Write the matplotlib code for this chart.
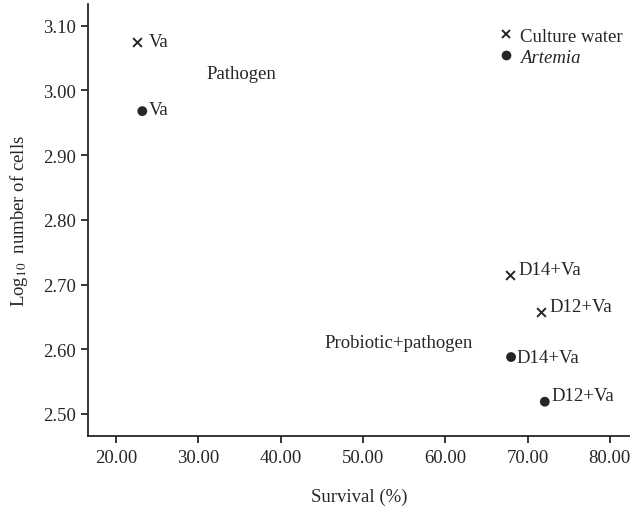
import matplotlib
matplotlib.use("Agg")
import matplotlib.pyplot as plt
from matplotlib.lines import Line2D

plt.rcParams['font.family'] = ['Liberation Serif', 'DejaVu Serif']
plt.rcParams['mathtext.fontset'] = 'stix'

# Data
water_labels = ["Va", "D14+Va", "D12+Va"]
water_survival = [22.5, 67.9, 71.6]
water_log = [3.075, 2.715, 2.658]

artemia_labels = ["Va", "D14+Va", "D12+Va"]
artemia_survival = [23.2, 68.0, 72.1]
artemia_log = [2.968, 2.588, 2.519]

x_ticks = [20, 30, 40, 50, 60, 70, 80]
y_ticks = [2.5, 2.6, 2.7, 2.8, 2.9, 3.0, 3.1]

ink = "#262626"
FS = 13.5

fig = plt.figure(figsize=(6.3, 5.1), dpi=100)
ax = fig.add_axes([0.140, 0.1425, 0.86, 0.8477])

ax.scatter(water_survival, water_log, marker='x', s=40, color=ink, linewidths=1.4, zorder=3)
ax.scatter(artemia_survival, artemia_log, marker='o', s=50, color=ink, edgecolors='none', zorder=3)

water_offsets = [(9, 0), (6, 3.5), (6.5, 3.5)]
for lab, x, y, off in zip(water_labels, water_survival, water_log, water_offsets):
    ax.annotate(lab, (x, y), xytext=off, textcoords='offset points',
                ha='left', va='center', fontsize=FS, color=ink)
art_offsets = [(5, 1), (4, 0), (4.5, 4.5)]
for lab, x, y, off in zip(artemia_labels, artemia_survival, artemia_log, art_offsets):
    ax.annotate(lab, (x, y), xytext=off, textcoords='offset points',
                ha='left', va='center', fontsize=FS, color=ink)

ax.text(35.3, 3.026, "Pathogen", ha='center', va='center', fontsize=FS, color=ink)
ax.text(54.3, 2.611, "Probiotic+pathogen", ha='center', va='center', fontsize=FS, color=ink)

handles = [Line2D([], [], marker='x', linestyle='none', color=ink, markersize=6.3, markeredgewidth=1.4),
           Line2D([], [], marker='o', linestyle='none', color=ink, markersize=7, markeredgewidth=0)]
leg = ax.legend(handles, ["Culture water", "Artemia"], loc='upper left',
                bbox_to_anchor=(0.733, 0.975), frameon=False, fontsize=FS,
                handlelength=0.8, handletextpad=0.35, labelspacing=0.2, borderpad=0.2)
leg.get_texts()[1].set_fontstyle('italic')
for t in leg.get_texts():
    t.set_color(ink)

ax.set_xlim(16.63, 82.45)
ax.set_ylim(2.4655, 3.1335)
ax.set_xticks(x_ticks)
ax.set_yticks(y_ticks)
ax.set_xticklabels([f"{v:.2f}" for v in x_ticks])
ax.set_yticklabels([f"{v:.2f}" for v in y_ticks])

for s in ['top', 'right']:
    ax.spines[s].set_visible(False)
for s in ['left', 'bottom']:
    ax.spines[s].set_linewidth(1.3)
    ax.spines[s].set_color(ink)
ax.tick_params(direction='out', length=5, width=1.3, color=ink, labelsize=FS, labelcolor=ink, pad=4)

ax.set_xlabel("Survival (%)", fontsize=FS, color=ink, labelpad=16)
ax.set_ylabel(r"Log$_{10}$  number of cells", fontsize=FS, color=ink, labelpad=9)

fig.savefig("out.png", dpi=100)
